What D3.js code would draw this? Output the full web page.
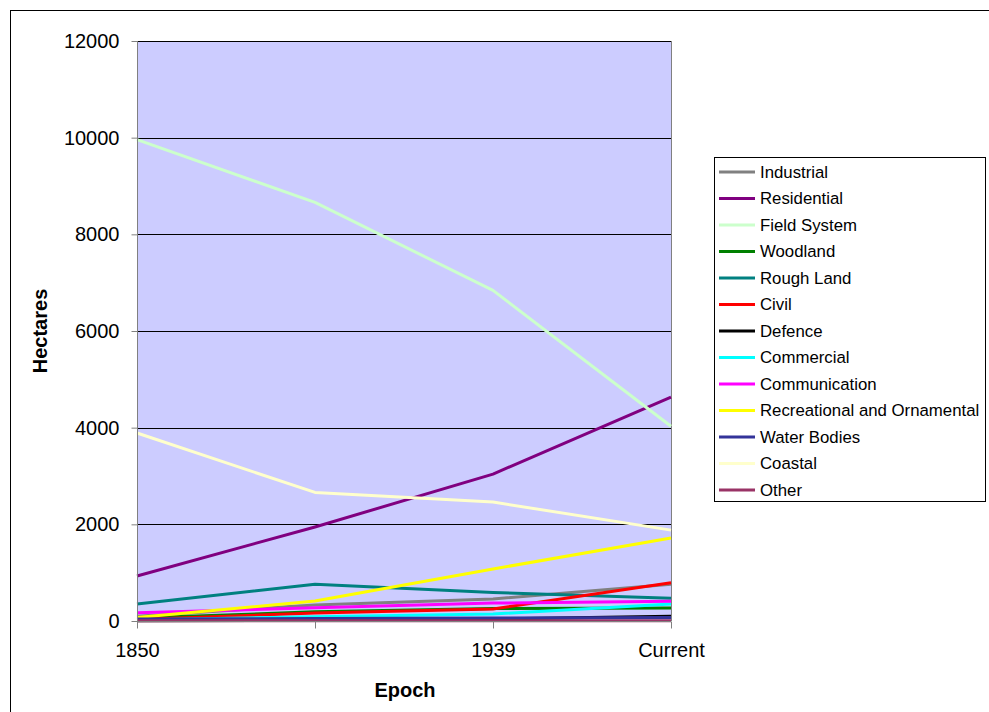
<!DOCTYPE html>
<html>
<head>
<meta charset="utf-8">
<script src="https://cdn.jsdelivr.net/npm/d3@7"></script>
<style>
  body { margin: 0; background: #fff; }
  svg { display: block; font-family: "Liberation Sans", Arial, sans-serif; }
</style>
</head>
<body>
<svg id="chart" width="989" height="712"></svg>
<script>
// Land use by epoch (hectares)
const epochs = ["1850", "1893", "1939", "Current"];
const seriesNames = ["Industrial", "Residential", "Field System", "Woodland", "Rough Land", "Civil", "Defence", "Commercial", "Communication", "Recreational and Ornamental", "Water Bodies", "Coastal", "Other"];
const seriesColors = ["#808080", "#800080", "#CCFFCC", "#008000", "#008080", "#FF0000", "#000000", "#00FFFF", "#FF00FF", "#FFFF00", "#333399", "#FFFFCC", "#993366"];
const industrial = [100, 330, 455, 760];
const residential = [930, 1945, 3040, 4630];
const fieldSystem = [9960, 8660, 6840, 4030];
const woodland = [60, 190, 260, 270];
const roughLand = [350, 760, 590, 470];
const civil = [30, 165, 250, 790];
const defence = [5, 15, 40, 100];
const commercial = [20, 90, 145, 350];
const communication = [170, 275, 370, 410];
const recreational = [70, 414, 1076, 1717];
const waterBodies = [40, 50, 60, 70];
const coastal = [3890, 2660, 2460, 1880];
const other = [5, 5, 5, 5];
const yTicks = [0, 2000, 4000, 6000, 8000, 10000, 12000];

const seriesValues = [industrial, residential, fieldSystem, woodland, roughLand, civil, defence, commercial, communication, recreational, waterBodies, coastal, other];
const series = seriesNames.map((name, i) => ({ name, color: seriesColors[i], values: seriesValues[i] }));

const svg = d3.select("#chart");
const plot = { left: 137, right: 671, top: 41, bottom: 621 };

// outer chart frame
svg.append("rect").attr("x", 10.5).attr("y", 10.5).attr("width", 1000).attr("height", 740)
  .attr("fill", "#fff").attr("stroke", "#000").attr("stroke-width", 1);

const x = d3.scalePoint().domain(epochs).range([plot.left, plot.right]);
const y = d3.scaleLinear().domain([0, 12000]).range([plot.bottom, plot.top]);

// plot background
svg.append("rect").attr("x", plot.left).attr("y", plot.top)
  .attr("width", plot.right - plot.left).attr("height", plot.bottom - plot.top)
  .attr("fill", "#CCCCFF");

// horizontal gridlines
svg.append("g").selectAll("line").data(yTicks.filter(d => d > 0)).join("line")
  .attr("x1", plot.left).attr("x2", plot.right)
  .attr("y1", d => Math.round(y(d)) + 0.5).attr("y2", d => Math.round(y(d)) + 0.5)
  .attr("stroke", "#000").attr("stroke-width", 1);

// right border of plot
svg.append("line").attr("x1", plot.right + 0.5).attr("x2", plot.right + 0.5)
  .attr("y1", plot.top).attr("y2", plot.bottom).attr("stroke", "#808080");

// lines
const line = d3.line().x((d, i) => x(epochs[i])).y(d => y(d));
svg.append("g").selectAll("path").data(series).join("path")
  .attr("d", d => line(d.values))
  .attr("fill", "none").attr("stroke", d => d.color).attr("stroke-width", 3)
  .attr("stroke-linejoin", "round");

// y axis
const yAxis = d3.axisLeft(y).tickValues(yTicks).tickSize(6).tickPadding(12).tickFormat(d3.format("d"));
const gy = svg.append("g").attr("transform", `translate(${plot.left + 0.5},0)`).call(yAxis);
gy.select(".domain").attr("stroke", "#808080").attr("d", `M0,${plot.top}V${plot.bottom}`);
gy.selectAll(".tick line").attr("stroke", "#808080");
gy.selectAll(".tick text").attr("font-size", 20).attr("fill", "#000")
  .attr("font-family", "Liberation Sans, Arial, sans-serif");

// x axis
const xAxis = d3.axisBottom(x).tickSize(7).tickPadding(14);
const gx = svg.append("g").attr("transform", `translate(0,${plot.bottom + 0.5})`).call(xAxis);
gx.select(".domain").attr("stroke", "#808080").attr("d", `M${plot.left},0H${plot.right}`);
gx.selectAll(".tick line").attr("stroke", "#808080");
gx.selectAll(".tick text").attr("font-size", 20).attr("fill", "#000")
  .attr("font-family", "Liberation Sans, Arial, sans-serif");

// axis titles
svg.append("text").attr("x", 405).attr("y", 697).attr("text-anchor", "middle")
  .attr("font-size", 20).attr("font-weight", "bold").text("Epoch");
svg.append("text").attr("transform", "translate(47,331) rotate(-90)").attr("text-anchor", "middle")
  .attr("font-size", 20).attr("font-weight", "bold").text("Hectares");

// legend
const lg = svg.append("g");
lg.append("rect").attr("x", 714.5).attr("y", 157.5).attr("width", 271).attr("height", 344)
  .attr("fill", "#fff").attr("stroke", "#000");
const items = lg.selectAll("g.item").data(series).join("g").attr("class", "item")
  .attr("transform", (d, i) => `translate(0,${172 + i * 26.5})`);
items.append("line").attr("x1", 719).attr("x2", 755).attr("y1", 0).attr("y2", 0)
  .attr("stroke", d => d.color).attr("stroke-width", 3);
items.append("text").attr("x", 760).attr("y", 0).attr("dy", "0.35em")
  .attr("font-size", 16.8).attr("fill", "#000").text(d => d.name);
</script>
</body>
</html>
